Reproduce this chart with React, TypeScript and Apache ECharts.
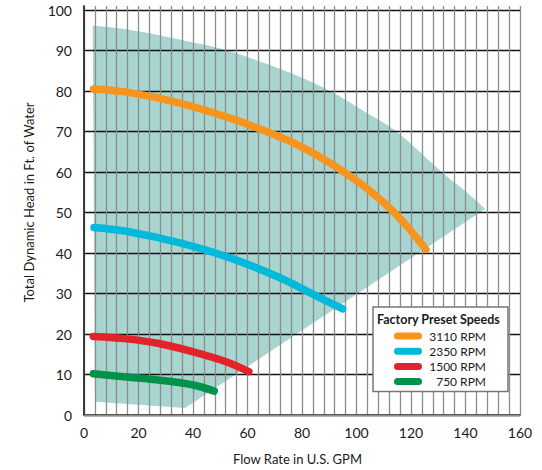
import React, { useEffect, useRef } from "react";
import * as echarts from "echarts";

// ---- data ----
const speedNames = ["3110 RPM", "2350 RPM", "1500 RPM", "750 RPM"];

const flow3110 = [3.5, 16.9, 35.2, 53.6, 67, 79.3, 91.5, 103.7, 114.7, 125.5];
const head3110 = [80.5, 79.6, 77.0, 73.3, 70.0, 66.4, 61.7, 56.0, 49.4, 40.9];

const flow2350 = [3.7, 16.9, 35.2, 53.6, 71.9, 84.1, 94.9];
const head2350 = [46.3, 45.2, 42.5, 38.8, 33.9, 29.8, 26.2];

const flow1500 = [3.4, 15.7, 27.9, 40.1, 52.4, 60.5];
const head1500 = [19.4, 18.8, 17.6, 15.6, 13.1, 10.7];

const flow750 = [3.4, 15.7, 27.9, 40.1, 47.8];
const head750 = [10.2, 9.4, 8.6, 7.4, 5.9];

// operating range: upper boundary (curved), then the lower corners
const rangeTopFlow = [3.2, 16.9, 35.2, 53.6, 75.6, 90.3, 103.0, 115.0, 131.3, 140.4, 147.2];
const rangeTopHead = [96.2, 95.1, 92.7, 89.8, 84.5, 80.0, 74.9, 69.8, 60.0, 55.0, 50.9];
const rangeBottomFlow = [37.1, 4.0];
const rangeBottomHead = [1.7, 3.3];

const xMin = 0;
const xMax = 160;
const xGridStep = 4;
const xLabelStep = 20;
const yMin = 0;
const yMax = 101;
const yStep = 10;

const FONT = "Lato, 'Open Sans', sans-serif";
const colors = ["#f7941d", "#00b9db", "#e3232a", "#00924a"];

const pairs = (xs: number[], ys: number[]) => xs.map((x, i) => [x, ys[i]]);

// Catmull-Rom rendering of a pixel polyline (drawing only, not data)
function smoothPath(p: number[][], steps: number): number[][] {
  const out: number[][] = [];
  const n = p.length;
  for (let i = 0; i < n - 1; i++) {
    const p0 = p[Math.max(i - 1, 0)];
    const p1 = p[i];
    const p2 = p[i + 1];
    const p3 = p[Math.min(i + 2, n - 1)];
    for (let s = 0; s < steps; s++) {
      const t = s / steps;
      const t2 = t * t;
      const t3 = t2 * t;
      const f = (a: number, b: number, c: number, d: number) =>
        0.5 * (2 * b + (-a + c) * t + (2 * a - 5 * b + 4 * c - d) * t2 + (-a + 3 * b - 3 * c + d) * t3);
      out.push([f(p0[0], p1[0], p2[0], p3[0]), f(p0[1], p1[1], p2[1], p3[1])]);
    }
  }
  out.push(p[n - 1]);
  return out;
}

export default function App() {
  const ref = useRef<HTMLDivElement>(null);

  useEffect(() => {
    document.body.style.margin = "0";
    if (!ref.current) return;
    const chart = echarts.init(ref.current, undefined, { renderer: "svg" });

    const curves = [
      pairs(flow3110, head3110),
      pairs(flow2350, head2350),
      pairs(flow1500, head1500),
      pairs(flow750, head750),
    ];

    const lineSeries = curves.map((data, i) => ({
      name: speedNames[i],
      type: "line",
      data,
      smooth: 0.35,
      showSymbol: false,
      symbol: "none",
      z: 3,
      itemStyle: { color: colors[i] },
      lineStyle: { color: colors[i], width: 7.5, cap: "round", join: "round" },
      silent: true,
    }));

    chart.setOption({
      animation: false,
      grid: { left: 84, right: 22, top: 6, bottom: 51.5 },
      title: {
        text: "Factory Preset Speeds",
        left: 377,
        top: 313,
        padding: 0,
        z: 10,
        textStyle: { fontFamily: FONT, fontSize: 12.5, fontWeight: "bold", color: "#1a1a1a" },
      },
      legend: {
        orient: "vertical",
        left: 373,
        top: 307,
        padding: [23, 22, 4, 21],
        itemWidth: 32,
        itemHeight: 7,
        itemGap: 3.2,
        backgroundColor: "#ffffff",
        borderColor: "#777777",
        borderWidth: 1.5,
        borderRadius: 0,
        selectedMode: false,
        icon: "path://M4,0 L28,0 A4,4 0 0 1 28,8 L4,8 A4,4 0 0 1 4,0 Z",
        itemStyle: { borderWidth: 0 },
        data: speedNames,
        formatter: (n: string) => `{r|${n}}`,
        textStyle: {
          fontFamily: FONT,
          fontSize: 12,
          color: "#1a1a1a",
          rich: {
            r: { width: 57, align: "right", fontFamily: FONT, fontSize: 12, lineHeight: 14, color: "#1a1a1a" },
          },
        },
      },
      xAxis: [
        {
          type: "value",
          min: xMin,
          max: xMax,
          interval: xGridStep,
          name: "Flow Rate in U.S. GPM",
          nameLocation: "middle",
          nameGap: 37,
          nameTextStyle: { fontFamily: FONT, fontSize: 13, color: "#1a1a1a", padding: [0, 9, 0, 0] },
          axisLine: { show: true, lineStyle: { color: "#222", width: 1.5 } },
          axisTick: { show: false },
          axisLabel: {
            interval: 0,
            margin: 10,
            fontFamily: FONT,
            fontSize: 14,
            color: "#1a1a1a",
            formatter: (v: number) => (v % xLabelStep === 0 ? String(v) : ""),
          },
          splitLine: { show: true, lineStyle: { color: "#8c8c8c", width: 1.3 } },
        },
        {
          type: "value",
          position: "top",
          min: xMin,
          max: xMax,
          axisLine: { show: true, lineStyle: { color: "#8c8c8c", width: 1.3 } },
          axisTick: { show: false },
          axisLabel: { show: false },
          splitLine: { show: false },
        },
      ],
      yAxis: [
        {
          type: "value",
          min: yMin,
          max: yMax,
          interval: yStep,
          name: "Total Dynamic Head in Ft. of Water",
          nameLocation: "middle",
          nameGap: 49,
          nameTextStyle: { fontFamily: FONT, fontSize: 13, color: "#1a1a1a", padding: [0, 0, 0, 16] },
          axisLine: { show: true, lineStyle: { color: "#333", width: 1.5 } },
          axisTick: { show: false },
          axisLabel: {
            margin: 12,
            fontFamily: FONT,
            fontSize: 14,
            color: "#1a1a1a",
            formatter: (v: number) => (v % yStep === 0 ? String(v) : ""),
          },
          splitLine: { show: true, showMaxLine: false, lineStyle: { color: "#111", width: 1.4 } },
        },
        {
          type: "value",
          position: "right",
          min: yMin,
          max: yMax,
          axisLine: { show: true, lineStyle: { color: "#333", width: 1.5 } },
          axisTick: { show: false },
          axisLabel: { show: false },
          splitLine: { show: false },
        },
      ],
      series: [
        {
          type: "custom",
          name: "range",
          z: -1,
          silent: true,
          encode: { x: 0, y: 1 },
          data: [...pairs(rangeTopFlow, rangeTopHead), ...pairs(rangeBottomFlow, rangeBottomHead)],
          renderItem: (params: any, api: any) => {
            if (params.dataIndex !== 0) return null;
            const top = rangeTopFlow.map((x, i) => api.coord([x, rangeTopHead[i]]));
            const bottom = rangeBottomFlow.map((x, i) => api.coord([x, rangeBottomHead[i]]));
            const pts = [...smoothPath(top, 10), ...bottom];
            return { type: "polygon", shape: { points: pts }, style: { fill: "#a9d5d0" } };
          },
        },
        ...lineSeries,
      ],
    });

    return () => chart.dispose();
  }, []);

  return <div ref={ref} style={{ width: 542, height: 470 }} />;
}
